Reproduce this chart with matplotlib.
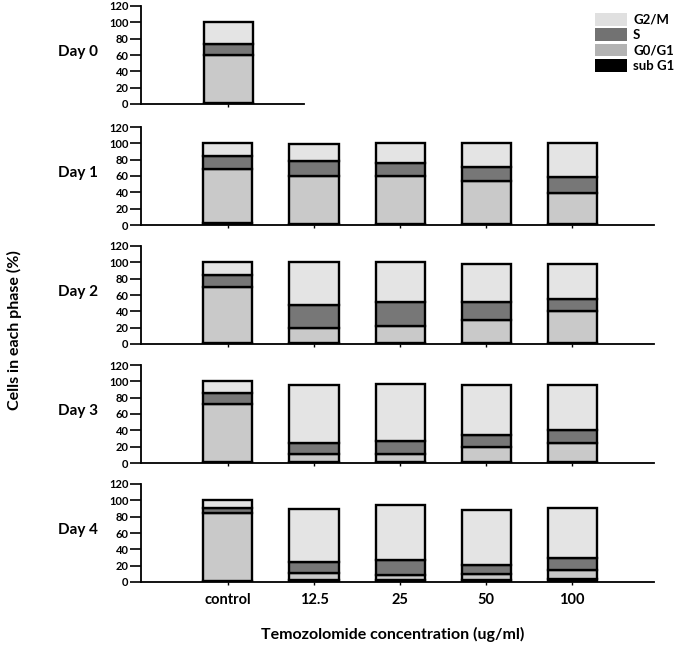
import matplotlib
matplotlib.use("Agg")
import matplotlib.pyplot as plt
import numpy as np
from matplotlib.patches import Patch

plt.rcParams['font.family'] = ['Lato', 'DejaVu Sans']
plt.rcParams['font.weight'] = 'bold'

categories = ['control', '12.5', '25', '50', '100']
phases = ['sub G1', 'G0/G1', 'S', 'G2/M']
days = ['Day 0', 'Day 1', 'Day 2', 'Day 3', 'Day 4']

# percentage of cells in each phase, per day, per concentration
sub_g1 = [[1], [2, 1, 1, 1, 1], [1, 1, 1, 1, 1], [1, 1, 1, 1, 1], [1, 2, 3, 2, 4]]
g0_g1 = [[59], [66, 59, 59, 53, 38], [69, 19, 21, 28, 39], [71, 10, 10, 18, 23], [83, 9, 5, 8, 11]]
s_phase = [[14], [17, 18, 16, 17, 20], [15, 28, 30, 23, 15], [14, 14, 16, 15, 16], [7, 14, 19, 11, 14]]
g2_m = [[26], [15, 21, 24, 29, 41], [15, 52, 48, 46, 43], [14, 71, 70, 62, 55], [9, 64, 67, 67, 61]]

bar_colors = ['#000000', '#c9c9c9', '#777777', '#e4e4e4']
legend_colors = ['#000000', '#b3b3b3', '#727272', '#e0e0e0']

fig = plt.figure(figsize=(6.75, 6.54), dpi=100)

left = 141 / 675
full_w = (654 - 141) / 675
day0_w = (304 - 141) / 675
h = 98 / 654
bottoms = [550, 429, 310, 191, 72]

for d in range(5):
    w = day0_w if d == 0 else full_w
    ax = fig.add_axes([left, bottoms[d] / 654, w, h])
    series = [sub_g1[d], g0_g1[d], s_phase[d], g2_m[d]]
    n = len(series[0])
    x = np.arange(n)
    base = np.zeros(n)
    for vals, col in zip(series, bar_colors):
        ax.bar(x, vals, 0.57, bottom=base, color=col, edgecolor='black', linewidth=1.7)
        base = base + np.array(vals)
    ax.set_ylim(0, 120)
    ax.set_xlim(-1.01, 0.88 if d == 0 else 4.95)
    ax.set_yticks(range(0, 121, 20))
    ax.tick_params(axis='y', length=8, width=1.2, labelsize=8, pad=1)
    ax.set_xticks(x)
    ax.tick_params(axis='x', length=2, width=1)
    if d == 4:
        ax.set_xticklabels(categories, fontsize=10.5, fontweight='bold')
        ax.tick_params(axis='x', pad=6)
    else:
        ax.set_xticklabels([])
    for lab in ax.get_yticklabels():
        lab.set_fontweight('bold')
    ax.spines['top'].set_visible(False)
    ax.spines['right'].set_visible(False)
    ax.spines['left'].set_linewidth(1.3)
    ax.spines['bottom'].set_linewidth(1.3)
    fig.text(78 / 675, (bottoms[d] + 52) / 654, days[d], ha='center', va='center',
             fontsize=11, fontweight='bold')

fig.text(14 / 675, 0.495, 'Cells in each phase (%)', rotation=90, ha='center', va='center',
         fontsize=11.5, fontweight='bold')
fig.text(393 / 675, 1 - 634 / 654, 'Temozolomide concentration (ug/ml)', ha='center', va='center',
         fontsize=11.5, fontweight='bold')

handles = [Patch(facecolor=c, edgecolor='none') for c in legend_colors[::-1]]
fig.legend(handles, phases[::-1], loc='upper left', bbox_to_anchor=(583 / 675, 1 - 1 / 654),
           frameon=False, handlelength=2.4, handleheight=1.1, handletextpad=0.5,
           labelspacing=0.2, prop={'weight': 'bold', 'size': 9.5})

fig.savefig('out.png', dpi=100)
